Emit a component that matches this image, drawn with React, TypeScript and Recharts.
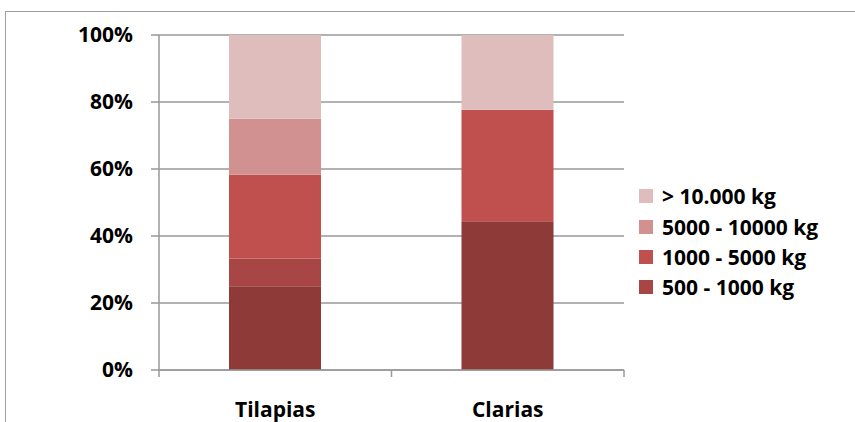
import React from 'react'
import { BarChart, Bar, XAxis, YAxis, CartesianGrid } from 'recharts'

// share of farms per production class, per species
const categories = ['Tilapias', 'Clarias']
const under500 = [25, 44.4]
const kg500to1000 = [8.3, 0]
const kg1000to5000 = [25, 33.3]
const kg5000to10000 = [16.7, 0]
const over10000 = [25, 22.3]
const yTicks = [0, 0.2, 0.4, 0.6, 0.8, 1]

const series = [
  { key: 'under500', name: '< 500 kg', values: under500, color: '#8e3a39', inLegend: false },
  { key: 'kg500to1000', name: '500 - 1000 kg', values: kg500to1000, color: '#a84645', inLegend: true },
  { key: 'kg1000to5000', name: '1000 - 5000 kg', values: kg1000to5000, color: '#c0504d', inLegend: true },
  { key: 'kg5000to10000', name: '5000 - 10000 kg', values: kg5000to10000, color: '#d09190', inLegend: true },
  { key: 'over10000', name: '> 10.000 kg', values: over10000, color: '#dfbdbd', inLegend: true },
]

const data = categories.map((c, i) => {
  const row: Record<string, string | number> = { name: c }
  series.forEach(s => { row[s.key] = s.values[i] })
  return row
})

const W = 855
const H = 422
const xAxisHeight = 52
const margin = { top: 35, right: 231, bottom: 0, left: 0 }
const yAxisWidth = 159
const plotWidth = W - margin.left - margin.right - yAxisWidth
const band = plotWidth / categories.length

const font = '"Open Sans", "Liberation Sans", sans-serif'
const fontSize = 21
const axisColor = '#999999'

// category label plus the small tick marks on the category boundaries
function CategoryTick(props: any) {
  const { x, y, payload, index } = props
  const left = x - band / 2
  const right = x + band / 2
  return (
    <g>
      <line x1={left} y1={y} x2={left} y2={y + 7} stroke={axisColor} strokeWidth={1.5} />
      {index === categories.length - 1 && (
        <line x1={right} y1={y} x2={right} y2={y + 7} stroke={axisColor} strokeWidth={1.5} />
      )}
      <text x={x} y={y + 47} textAnchor="middle" fontFamily={font} fontWeight={700} fontSize={fontSize} fill="#000">
        {payload.value}
      </text>
    </g>
  )
}

function LegendBox() {
  const items = series.filter(s => s.inLegend).reverse()
  return (
    <div style={{
      position: 'absolute', left: 639, top: 181,
      fontFamily: font, fontWeight: 700, fontSize, color: '#000',
    }}>
      {items.map(s => (
        <div key={s.key} style={{ display: 'flex', alignItems: 'center', height: 30.4 }}>
          <span style={{ width: 14, height: 14, background: s.color, marginRight: 9, display: 'inline-block' }} />
          <span style={{ whiteSpace: 'nowrap' }}>{s.name}</span>
        </div>
      ))}
    </div>
  )
}

export default function App() {
  return (
    <div style={{ position: 'absolute', left: 0, top: 0, width: W, height: H, background: '#fff', overflow: 'hidden' }}>
      <div style={{
        position: 'absolute', left: 5, top: 11, right: -10, bottom: -10,
        borderTop: '1.5px solid #a0a0a0', borderLeft: '1.5px solid #a0a0a0',
      }} />
      <BarChart width={W} height={H} data={data} margin={margin} stackOffset="expand" barSize={92}>
        <CartesianGrid horizontal vertical={false} stroke={axisColor} strokeWidth={1.5} />
        <XAxis
          dataKey="name"
          axisLine={{ stroke: axisColor, strokeWidth: 1.5 }}
          tickLine={false}
          tickSize={0}
          tickMargin={0}
          tick={<CategoryTick />}
          height={xAxisHeight}
        />
        <YAxis
          width={yAxisWidth}
          domain={[0, 1]}
          ticks={yTicks}
          interval={0}
          tickSize={8}
          tickMargin={18}
          axisLine={{ stroke: axisColor, strokeWidth: 1.5 }}
          tickLine={{ stroke: axisColor, strokeWidth: 1.5 }}
          tick={{ fontFamily: font, fontWeight: 700, fontSize, fill: '#000' }}
          tickFormatter={v => `${Math.round(v * 100)}%`}
        />
        {series.map(s => (
          <Bar
            key={s.key}
            dataKey={s.key}
            name={s.name}
            stackId="a"
            fill={s.color}
            isAnimationActive={false}
          />
        ))}
      </BarChart>
      <LegendBox />
    </div>
  )
}
